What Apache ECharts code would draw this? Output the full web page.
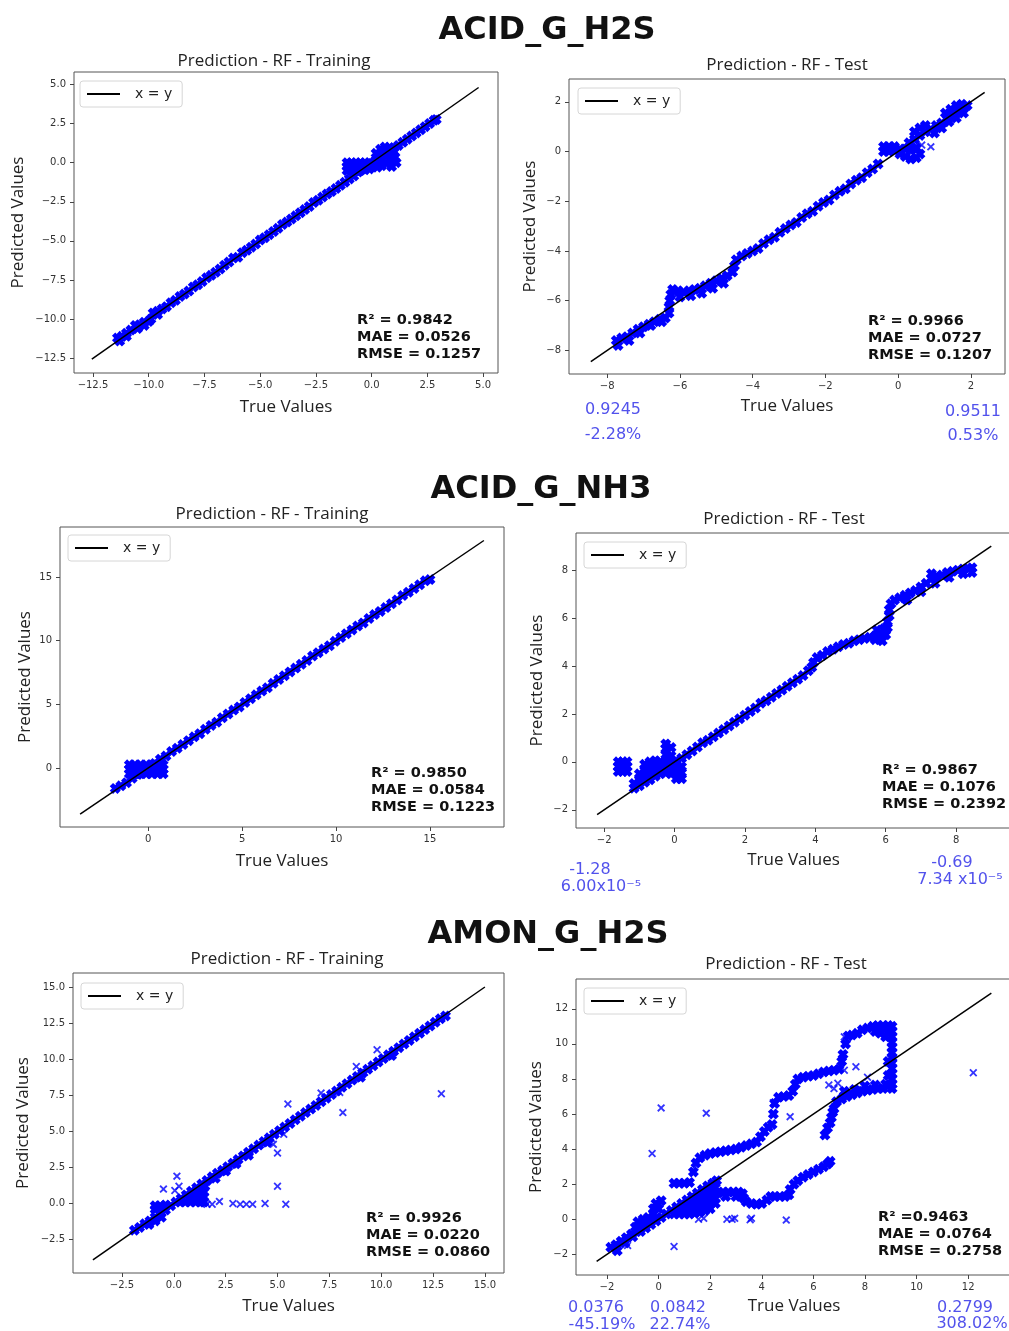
<!DOCTYPE html>
<html><head><meta charset="utf-8">
<script src="https://cdn.jsdelivr.net/npm/echarts@6/dist/echarts.min.js"></script>
<style>html,body{margin:0;padding:0;background:#fff}#c{width:1009px;height:1331px}</style>
</head><body><div id="c"></div>
<script>
// ---------------- DATA ----------------
const groupTitles = ['ACID_G_H2S', 'ACID_G_NH3', 'AMON_G_H2S'];
const subTitles = ['Prediction - RF - Training', 'Prediction - RF - Test'];
const xName = 'True Values';
const yName = 'Predicted Values';
const lineName = 'x = y';

// ACID_G_H2S - training
const ah2sTrainTicks = [-12.5, -10, -7.5, -5, -2.5, 0, 2.5, 5];
const ah2sTrainLine = [-12.55, 4.8];
const ah2sTrainStats = ['R\u00b2 = 0.9842', 'MAE = 0.0526', 'RMSE = 0.1257'];
const ah2sTrainCloud = [
 [-11.4,-11.2],[-11.2,-11.1],[-11.0,-11.1],[-10.8,-10.7],[-10.6,-10.4],[-10.4,-10.35],[-10.2,-10.2],[-10.0,-10.15],
 [-9.8,-9.6],[-9.6,-9.5],[-9.4,-9.35],[-9.2,-9.2],[-9.0,-8.95],[-8.8,-8.8],[-8.6,-8.55],[-8.4,-8.4],[-8.2,-8.2],
 [-8.0,-7.95],[-7.8,-7.8],[-7.6,-7.6],[-7.4,-7.35],[-7.2,-7.2],[-7.0,-7.0],[-6.8,-6.8],[-6.6,-6.55],[-6.4,-6.35],
 [-6.2,-6.1],[-6.0,-6.05],[-5.8,-5.75],[-5.6,-5.6],[-5.4,-5.4],[-5.2,-5.2],[-5.0,-4.95],[-4.8,-4.8],[-4.6,-4.6],
 [-4.4,-4.4],[-4.2,-4.2],[-4.0,-3.95],[-3.8,-3.8],[-3.6,-3.6],[-3.4,-3.4],[-3.2,-3.2],[-3.0,-3.0],[-2.8,-2.8],
 [-2.6,-2.55],[-2.4,-2.4],[-2.2,-2.2],[-2.0,-2.0],[-1.8,-1.85],[-1.6,-1.65],[-1.4,-1.45],[-1.2,-1.25],[-1.0,-1.05],
 [-0.8,-0.85],[-0.6,-0.6],[-0.4,-0.4],[-0.2,-0.25],[0.0,-0.05],[0.2,0.15],[0.4,0.35],[0.6,0.55],[0.8,0.75],
 [1.0,0.95],[1.2,1.1],[1.4,1.3],[1.6,1.5],[1.8,1.7],[2.0,1.9],[2.2,2.1],[2.4,2.3],[2.6,2.5],[2.8,2.7],[2.9,2.75],
 [-11.3,-11.4],[-11.0,-10.9],[-10.5,-10.6],[-10.2,-10.4],[-9.9,-10.0],[-9.6,-9.7],
 [-1.1,0.0],[-0.9,0.0],[-0.7,0.0],[-0.5,0.0],[-0.3,0.0],[-0.1,0.0],
 [-1.1,-0.25],[-0.9,-0.25],[-0.7,-0.25],[-0.5,-0.25],[-0.3,-0.25],[-0.1,-0.25],
 [-1.1,-0.5],[-0.9,-0.5],[-0.7,-0.5],[-0.5,-0.5],[-0.3,-0.45],[-0.1,-0.4],
 [0.2,0.6],[0.4,0.85],[0.6,1.0],[0.8,0.95],[0.25,-0.3],[0.45,-0.2],[0.65,-0.05],[0.85,0.15],[1.05,0.35],
 [1.1,0.0],[0.9,-0.25],[0.55,0.5],[0.35,0.2],[0.75,0.5],[1.0,0.7]
];

// ACID_G_H2S - test
const ah2sTestTicks = [-8, -6, -4, -2, 0, 2];
const ah2sTestLine = [-8.45, 2.38];
const ah2sTestStats = ['R\u00b2 = 0.9966', 'MAE = 0.0727', 'RMSE = 0.1207'];
const ah2sTestNotes = [['0.9245', '-2.28%'], ['0.9511', '0.53%']];
const ah2sTestCloud = [
 [-7.75,-7.6],[-7.6,-7.5],[-7.45,-7.45],[-7.3,-7.3],[-7.15,-7.15],[-7.0,-7.05],[-6.85,-6.95],[-6.7,-6.85],
 [-6.55,-6.75],[-6.4,-6.7],[-7.7,-7.8],[-7.4,-7.6],[-7.1,-7.3],[-6.8,-7.0],[-6.5,-6.85],
 [-6.3,-6.5],[-6.3,-6.25],[-6.28,-6.0],[-6.25,-5.75],[-6.2,-5.55],
 [-6.05,-5.6],[-5.9,-5.65],[-5.75,-5.6],[-5.6,-5.55],[-5.45,-5.5],[-5.3,-5.4],[-5.15,-5.3],[-5.0,-5.2],
 [-4.85,-5.1],[-4.7,-5.0],[-4.55,-4.85],[-6.0,-5.85],[-5.7,-5.8],[-5.4,-5.7],[-5.1,-5.5],[-4.8,-5.3],
 [-4.5,-4.6],[-4.45,-4.35],
 [-4.3,-4.2],[-4.15,-4.1],[-4.0,-4.0],[-3.85,-3.9],[-3.7,-3.7],[-3.55,-3.55],[-3.4,-3.45],[-3.25,-3.25],
 [-3.1,-3.1],[-2.95,-2.95],[-2.8,-2.85],[-2.65,-2.65],[-2.5,-2.5],[-2.35,-2.4],[-2.2,-2.2],[-2.05,-2.05],
 [-1.9,-1.95],[-1.75,-1.75],[-1.6,-1.6],[-1.45,-1.5],[-1.3,-1.3],[-1.15,-1.15],[-1.0,-1.05],[-0.85,-0.85],
 [-0.7,-0.7],[-0.55,-0.5],
 [-0.4,0.2],[-0.25,0.2],[-0.1,0.2],[-0.4,0.0],[-0.25,0.0],[-0.1,0.05],
 [0.05,-0.1],[0.2,-0.2],[0.35,-0.3],[0.5,-0.25],[0.6,-0.1],[0.2,0.1],[0.35,0.05],[0.5,0.15],[0.05,0.1],
 [0.3,0.35],[0.45,0.5],[0.6,0.65],[0.75,0.8],[0.9,0.9],[1.05,1.05],[1.2,1.15],[1.35,1.3],[1.5,1.45],
 [1.65,1.6],[1.8,1.75],[1.9,1.85],
 [0.45,0.8],[0.6,0.95],[0.75,1.05],[1.3,1.55],[1.45,1.7],[1.6,1.85],[1.75,1.9],
 [1.0,0.75],[1.2,0.95],[1.4,1.2],[1.6,1.35],[1.8,1.55]
];
const ah2sTestOutliers = [[0.65,0.26],[0.9,0.19]];

// ACID_G_NH3 - training
const anh3TrainTicks = [0, 5, 10, 15];
const anh3TrainLine = [-3.62, 17.87];
const anh3TrainStats = ['R\u00b2 = 0.9850', 'MAE = 0.0584', 'RMSE = 0.1223'];
const anh3TrainCloud = [
 [-1.75,-1.6],[-1.45,-1.4],[-1.15,-1.15],[-0.85,-0.8],[-0.55,-0.5],[-0.25,-0.25],[0.05,0.05],[0.35,0.35],
 [0.65,0.7],[0.95,0.95],[1.25,1.3],[1.55,1.55],[1.85,1.85],[2.15,2.15],[2.45,2.45],[2.75,2.7],[3.05,3.05],
 [3.35,3.35],[3.65,3.6],[3.95,3.95],[4.25,4.25],[4.55,4.55],[4.85,4.8],[5.15,5.15],[5.45,5.45],[5.75,5.75],
 [6.05,6.05],[6.35,6.3],[6.65,6.65],[6.95,6.95],[7.25,7.25],[7.55,7.55],[7.85,7.85],[8.15,8.15],[8.45,8.45],
 [8.75,8.8],[9.05,9.05],[9.35,9.35],[9.65,9.6],[9.95,9.95],[10.25,10.25],[10.55,10.55],[10.85,10.85],
 [11.15,11.15],[11.45,11.4],[11.75,11.75],[12.05,12.05],[12.35,12.3],[12.65,12.6],[12.95,12.9],[13.25,13.2],
 [13.55,13.55],[13.85,13.8],[14.15,14.1],[14.45,14.4],[14.75,14.7],[15.0,14.8],
 [-1.0,0.25],[-0.7,0.25],[-0.4,0.25],[-0.1,0.25],[0.2,0.25],[0.5,0.25],[0.8,0.25],
 [-1.0,-0.1],[-0.7,-0.1],[-0.4,-0.1],[-0.1,-0.1],[0.2,-0.1],[0.5,-0.1],[0.8,-0.1],
 [-1.0,-0.45],[-0.7,-0.45],[-0.4,-0.45],[-0.1,-0.45],[0.2,-0.45],[0.5,-0.45],[0.8,-0.45]
];

// ACID_G_NH3 - test
const anh3TestTicks = [-2, 0, 2, 4, 6, 8];
const anh3TestLine = [-2.2, 9.0];
const anh3TestStats = ['R\u00b2 = 0.9867', 'MAE = 0.1076', 'RMSE = 0.2392'];
const anh3TestNotes = [['-1.28', '6.00x10\u207b\u2075'], ['-0.69', '7.34 x10\u207b\u2075']];
const anh3TestCloud = [
 [-1.6,0.0],[-1.47,0.0],[-1.35,0.0],[-1.6,-0.2],[-1.47,-0.2],[-1.35,-0.2],[-1.6,-0.4],[-1.47,-0.4],[-1.35,-0.4],
 [-1.15,-1.1],[-1.15,-0.9],[-1.0,-1.0],[-1.0,-0.75],[-1.0,-0.5],
 [-0.85,-0.85],[-0.85,-0.6],[-0.85,-0.35],[-0.85,-0.1],
 [-0.7,-0.75],[-0.7,-0.5],[-0.7,-0.25],[-0.7,0.0],
 [-0.55,-0.6],[-0.55,-0.35],[-0.55,-0.1],[-0.55,0.05],
 [-0.4,-0.5],[-0.4,-0.25],[-0.4,0.0],
 [-0.25,-0.45],[-0.25,-0.2],[-0.25,0.05],[-0.25,0.3],[-0.25,0.55],[-0.25,0.75],
 [-0.1,-0.5],[-0.1,-0.25],[-0.1,0.0],[-0.1,0.25],[-0.1,0.6],
 [0.05,-0.7],[0.05,-0.45],[0.05,-0.2],[0.05,0.05],
 [0.2,-0.7],[0.2,-0.45],[0.2,-0.2],[0.2,0.15],
 [0.35,0.3],[0.5,0.45],[0.65,0.62],[0.8,0.8],[0.95,0.9],[1.1,1.05],[1.25,1.2],[1.4,1.35],[1.55,1.5],
 [1.7,1.65],[1.85,1.8],[2.0,1.95],[2.15,2.1],[2.3,2.25],[2.45,2.45],[2.6,2.55],[2.75,2.7],[2.9,2.85],
 [3.05,3.0],[3.2,3.15],[3.35,3.3],[3.5,3.45],[3.65,3.6],[3.8,3.8],
 [3.9,3.95],[3.95,4.15],[4.05,4.35],[4.2,4.45],[4.35,4.6],[4.5,4.7],[4.65,4.8],[4.8,4.9],[4.95,4.95],
 [5.1,5.05],[5.25,5.1],[5.4,5.15],[5.55,5.2],[5.7,5.25],[5.85,5.3],[6.0,5.3],
 [5.75,5.5],[5.95,5.55],[5.9,5.05],[5.7,5.1],
 [6.05,5.6],[6.05,5.85],[6.1,6.1],[6.1,6.35],[6.15,6.6],
 [6.25,6.75],[6.4,6.85],[6.55,6.95],[6.7,7.05],[6.85,7.15],[7.0,7.3],[7.15,7.45],[7.3,7.65],[7.45,7.75],
 [7.6,7.8],[7.75,7.9],[7.9,7.95],[8.05,8.0],[8.2,8.05],[8.35,8.05],[8.45,8.1],
 [6.6,6.75],[7.0,7.1],[7.4,7.45],[7.8,7.7],[8.2,7.85],[8.45,7.9],[7.3,7.85]
];

// AMON_G_H2S - training
const amonTrainTicks = [-2.5, 0, 2.5, 5, 7.5, 10, 12.5, 15];
const amonTrainLine = [-3.9, 15.0];
const amonTrainStats = ['R\u00b2 = 0.9926', 'MAE = 0.0220', 'RMSE = 0.0860'];
const amonTrainCloud = [
 [-1.9,-1.85],[-1.65,-1.65],[-1.4,-1.4],[-1.15,-1.2],[-0.9,-0.95],[-0.65,-0.7],[-0.4,-0.45],[-0.15,-0.15],
 [0.1,0.1],[0.35,0.35],[0.6,0.6],[0.85,0.85],[1.1,1.1],[1.35,1.35],[1.6,1.6],[1.85,1.85],[2.1,2.1],
 [2.35,2.3],[2.6,2.55],[2.85,2.8],[3.1,3.05],[3.35,3.3],[3.6,3.55],[3.85,3.8],[4.1,4.05],[4.35,4.3],
 [4.6,4.55],[4.85,4.8],[5.1,5.05],[5.35,5.3],[5.6,5.55],[5.85,5.8],[6.1,6.05],[6.35,6.3],[6.6,6.55],
 [6.85,6.8],[7.1,7.05],[7.35,7.3],[7.6,7.55],[7.85,7.8],[8.1,8.05],[8.35,8.3],[8.6,8.55],[8.85,8.8],
 [9.1,9.05],[9.35,9.3],[9.6,9.55],[9.85,9.8],[10.1,10.05],[10.35,10.3],[10.6,10.55],[10.85,10.8],
 [11.1,11.05],[11.35,11.3],[11.6,11.55],[11.85,11.8],[12.1,12.05],[12.35,12.3],[12.6,12.55],[12.85,12.8],
 [13.1,13.0],
 [1.5,1.2],[2.0,1.75],[2.5,2.25],[3.0,2.75],[3.6,3.35],[4.5,4.25],[9.0,8.75],[10.5,10.25],
 [0.3,0.1],[0.55,0.1],[0.8,0.1],[1.05,0.1],[1.3,0.1],[1.45,0.1],
 [0.8,0.4],[1.05,0.4],[1.3,0.4],[1.45,0.45],[1.05,0.7],[1.3,0.7],[1.45,0.8],[1.3,1.0],
 [-0.9,-0.15],[-0.65,-0.15],[-0.4,-0.1],[-0.9,-0.4],[-0.65,-0.4],
 [-1.2,-1.45],[-0.9,-1.2],[-0.6,-0.95]
];
const amonTrainOutliers = [
 [0.15,1.9],[-0.5,1.0],[0.25,1.2],[0.05,0.9],[2.2,0.15],[1.6,-0.05],[1.85,-0.05],[2.85,0.0],[3.2,-0.05],
 [3.5,-0.05],[3.8,-0.05],[4.4,0.0],[5.4,-0.05],[5.0,1.2],[5.0,3.5],[4.8,4.1],[5.5,6.9],[8.15,6.3],
 [12.9,7.6],[9.8,10.65],[8.8,9.5],[9.2,9.1],[7.1,7.65],[8.0,7.7],[5.3,4.8],[4.7,4.5]
];

// AMON_G_H2S - test
const amonTestTicks = [-2, 0, 2, 4, 6, 8, 10, 12];
const amonTestLine = [-2.4, 12.9];
const amonTestStats = ['R\u00b2 =0.9463', 'MAE = 0.0764', 'RMSE = 0.2758'];
const amonTestNotes = [['0.0376', '-45.19%'], ['0.0842', '22.74%'], ['0.2799', '308.02%']];
const amonTestCloud = [
 [-1.85,-1.6],[-1.65,-1.45],[-1.45,-1.25],[-1.25,-1.05],[-1.05,-0.85],[-0.85,-0.7],
 [-1.6,-1.8],[-1.3,-1.35],[-1.0,-1.0],[-0.7,-0.7],
 [-0.5,-0.5],[-0.3,-0.3],[-0.1,-0.1],[0.1,0.1],[0.3,0.3],[0.5,0.5],[0.7,0.7],[0.9,0.9],[1.1,1.1],
 [1.3,1.3],[1.5,1.5],[1.7,1.7],[1.9,1.9],[2.1,2.05],[2.25,2.2],
 [-0.9,-0.45],[-0.7,-0.45],[-0.5,-0.3],[-0.8,-0.15],[-0.6,0.0],[-0.4,0.1],[-0.2,0.3],
 [-0.2,0.6],[0.0,0.6],[-0.1,0.9],[0.1,1.05],
 [0.6,0.3],[0.8,0.3],[0.8,0.55],[1.0,0.3],[1.0,0.6],[1.2,0.3],[1.2,0.6],[1.2,0.9],
 [1.4,0.35],[1.4,0.65],[1.4,0.95],[1.4,1.2],[1.6,0.4],[1.6,0.7],[1.6,1.0],[1.6,1.3],
 [1.8,0.5],[1.8,0.8],[1.8,1.1],[1.8,1.4],[2.0,0.6],[2.0,0.9],[2.0,1.2],[2.0,1.5],[2.0,1.8],
 [2.2,0.9],[2.2,1.2],[2.2,1.5],[2.2,1.8],
 [0.6,2.05],[0.8,2.05],[1.0,2.05],[1.2,2.1],[1.35,2.7],[1.45,3.2],[1.6,3.5],[1.8,3.65],[2.0,3.75],
 [2.2,3.8],[2.4,3.85],[2.6,3.9],[2.8,3.95],[3.0,4.0],[3.2,4.1],[3.4,4.2],[3.6,4.3],[3.8,4.4],[3.95,4.7],
 [4.1,5.0],[4.25,5.25],[4.4,5.4],[4.45,6.0],[4.5,6.6],[4.65,6.95],[4.85,7.0],[5.05,7.05],[5.2,7.3],
 [5.3,7.7],[5.4,8.0],[5.6,8.1],[5.8,8.15],[6.0,8.2],[6.2,8.3],[6.4,8.4],[6.6,8.45],[6.8,8.5],[7.0,8.55],
 [7.1,9.0],[7.15,9.4],[7.25,10.0],[7.35,10.45],[7.5,10.5],[7.7,10.6],[7.9,10.8],[8.1,10.9],[8.3,11.0],
 [8.5,11.05],[8.7,11.05],[8.9,11.05],[9.05,11.0],[8.6,10.6],[8.8,10.4],[8.9,10.7],[8.4,10.7],
 [9.05,10.7],[9.05,10.4],[9.05,10.1],[9.05,9.8],[9.05,9.5],[9.05,9.2],[9.05,8.9],[9.05,8.6],[9.05,8.3],
 [9.05,8.0],[9.05,7.7],[9.05,7.45],[8.9,9.0],[8.9,8.2],[8.9,7.6],
 [6.9,6.7],[7.1,6.85],[7.3,7.0],[7.5,7.1],[7.7,7.2],[7.9,7.3],[8.1,7.35],[8.3,7.4],[8.5,7.45],[8.7,7.45],
 [7.2,7.3],[7.6,7.4],[8.0,7.6],[8.4,7.65],[8.8,7.7],
 [6.45,4.8],[6.55,5.2],[6.65,5.5],[6.7,5.8],[6.75,6.1],[6.8,6.3],
 [2.3,1.5],[2.5,1.55],[2.7,1.55],[2.9,1.55],[3.1,1.55],[3.25,1.45],[2.6,1.3],[3.0,1.3],
 [3.3,1.2],[3.4,1.0],[3.6,0.9],[3.8,0.85],[4.0,0.9],[4.2,1.1],[4.35,1.3],[4.5,1.3],[4.7,1.3],[4.9,1.3],
 [5.05,1.4],[5.1,1.7],[5.25,2.0],[5.4,2.2],[5.6,2.4],[5.8,2.55],[6.0,2.7],[6.2,2.85],[6.4,3.0],
 [6.55,3.15],[6.65,3.3]
];
const amonTestOutliers = [
 [0.1,6.35],[1.85,6.05],[-0.25,3.75],[0.6,-1.55],[5.1,5.85],[12.2,8.35],[7.65,8.7],[8.1,8.1],[4.95,-0.05],
 [3.55,-0.03],[3.6,0.05],[2.65,0.0],[2.85,0.0],[2.95,0.05],[1.55,0.0],[1.75,0.05],[7.1,9.35],[6.6,7.65],
 [6.8,7.45],[6.95,7.75],[7.2,8.5],[-1.2,-1.5],[4.45,6.65],[7.2,10.4]
];

// ---------------- LAYOUT / STYLE ----------------
// dense-cloud marker: a thick "x" with a filled core so neighbouring markers merge into a solid band
const X_DENSE = 'path://M3,0 L5,2 L7,0 L10,3 L8,5 L10,7 L7,10 L5,8 L3,10 L0,7 L2,5 L0,3 Z M2,2 L8,2 L8,8 L2,8 Z';
const X_THIN = 'path://M1.6,0 L5,3.4 L8.4,0 L10,1.6 L6.6,5 L10,8.4 L8.4,10 L5,6.6 L1.6,10 L0,8.4 L3.4,5 L0,1.6 Z';
const BLUE = '#0000ff';
const NOTE = '#5252ec';

const panels = [
 {cloud: ah2sTrainCloud, out: null, line: ah2sTrainLine, ticks: ah2sTrainTicks, stats: ah2sTrainStats, sub: subTitles[0],
  box: [74, 72, 424, 301], xr: [-13.35, 5.67], yr: [-13.44, 5.79], dec: 1, xGap: 26, yGap: 47,
  leg: [80, 81], st: [357, 312], subPos: [274, 61]},
 {cloud: ah2sTestCloud, out: ah2sTestOutliers, line: ah2sTestLine, ticks: ah2sTestTicks, stats: ah2sTestStats, sub: subTitles[1],
  box: [569, 79, 436, 295], xr: [-9.05, 2.94], yr: [-8.95, 2.92], dec: 0, xGap: 24, yGap: 30,
  leg: [578, 88], st: [868, 313], subPos: [787, 65]},
 {cloud: anh3TrainCloud, out: null, line: anh3TrainLine, ticks: anh3TrainTicks, stats: anh3TrainStats, sub: subTitles[0],
  box: [60, 527, 444, 300], xr: [-4.69, 18.94], yr: [-4.63, 18.93], dec: 0, xGap: 26, yGap: 26,
  leg: [68, 535], st: [371, 765], subPos: [272, 514]},
 {cloud: anh3TestCloud, out: null, line: anh3TestLine, ticks: anh3TestTicks, stats: anh3TestStats, sub: subTitles[1],
  box: [576, 533, 435, 295], xr: [-2.8, 9.56], yr: [-2.76, 9.55], dec: 0, xGap: 24, yGap: 30,
  leg: [584, 542], st: [882, 762], subPos: [784, 519]},
 {cloud: amonTrainCloud, out: amonTrainOutliers, line: amonTrainLine, ticks: amonTrainTicks, stats: amonTrainStats, sub: subTitles[0],
  box: [73, 973, 431, 300], xr: [-4.86, 15.92], yr: [-4.81, 15.97], dec: 1, xGap: 25, yGap: 41,
  leg: [81, 983], st: [366, 1210], subPos: [287, 959]},
 {cloud: amonTestCloud, out: amonTestOutliers, line: amonTestLine, ticks: amonTestTicks, stats: amonTestStats, sub: subTitles[1],
  box: [576, 979, 436, 296], xr: [-3.2, 13.7], yr: [-3.18, 13.7], dec: 0, xGap: 23, yGap: 31,
  leg: [584, 988], st: [878, 1209], subPos: [786, 964]}
];

const groupPos = [[547, 31], [541, 490], [548, 935]];
const notes = [
 {text: ah2sTestNotes[0], pos: [[613, 410], [613, 435]]},
 {text: ah2sTestNotes[1], pos: [[973, 412], [973, 436]]},
 {text: anh3TestNotes[0], pos: [[590, 870], [601, 887]]},
 {text: anh3TestNotes[1], pos: [[952, 863], [960, 880]]},
 {text: amonTestNotes[0], pos: [[596, 1308], [602, 1325]]},
 {text: amonTestNotes[1], pos: [[678, 1308], [680, 1325]]},
 {text: amonTestNotes[2], pos: [[965, 1308], [972, 1324]]}
];

function fmt(dec) {
  return function (v) {
    const s = dec ? Number(v).toFixed(1) : String(Math.round(v));
    return s.replace('-', '\u2212');
  };
}

const grid = [], xAxis = [], yAxis = [], series = [], legend = [], graphic = [];
panels.forEach(function (p, i) {
  grid.push({left: p.box[0], top: p.box[1], width: p.box[2], height: p.box[3], show: true,
    borderColor: '#555', borderWidth: 1, backgroundColor: 'transparent', containLabel: false, outerBoundsMode: 'none'});
  const common = {
    type: 'value', gridIndex: i, splitLine: {show: false}, axisLine: {show: false, onZero: false},
    axisTick: {show: true, length: 4, lineStyle: {color: '#444'}, customValues: p.ticks},
    axisLabel: {customValues: p.ticks, formatter: fmt(p.dec), fontSize: 10, fontFamily: 'DejaVu Sans', color: '#333', margin: 7},
    nameLocation: 'middle', nameTextStyle: {fontFamily: 'Open Sans', fontSize: 17, color: '#222'}
  };
  xAxis.push(Object.assign({}, common, {position: 'bottom', min: p.xr[0], max: p.xr[1], name: xName, nameGap: p.xGap}));
  yAxis.push(Object.assign({}, common, {position: 'left', min: p.yr[0], max: p.yr[1], name: yName, nameGap: p.yGap, nameRotate: 90,
    axisLabel: Object.assign({}, common.axisLabel, {margin: 8})}));
  series.push({type: 'scatter', name: 'cloud' + i, xAxisIndex: i, yAxisIndex: i, data: p.cloud,
    symbol: X_DENSE, symbolSize: 11, itemStyle: {color: BLUE, opacity: 1}, z: 2, silent: true});
  if (p.out) series.push({type: 'scatter', name: 'out' + i, xAxisIndex: i, yAxisIndex: i, data: p.out,
    symbol: X_THIN, symbolSize: 8, itemStyle: {color: BLUE}, z: 2, silent: true});
  series.push({type: 'line', name: lineName, xAxisIndex: i, yAxisIndex: i,
    data: [[p.line[0], p.line[0]], [p.line[1], p.line[1]]], symbol: 'none', showSymbol: false,
    lineStyle: {color: '#000', width: 1.5}, itemStyle: {color: '#000'}, z: 3, silent: true});
  legend.push({data: [lineName], left: p.leg[0], top: p.leg[1], icon: 'rect', itemWidth: 33, itemHeight: 2,
    padding: [6, 10, 6, 7], backgroundColor: '#fff', borderColor: '#d6d6d6', borderWidth: 1, borderRadius: 3,
    selectedMode: false, z: 10,
    textStyle: {fontFamily: 'DejaVu Sans', fontSize: 14, color: '#222', padding: [0, 0, 0, 10]}});
  graphic.push({type: 'text', left: p.st[0], top: p.st[1], z: 20,
    style: {text: p.stats.join('\n'), font: 'bold 14.5px "DejaVu Sans"', lineHeight: 17, fill: '#111'}});
  graphic.push({type: 'text', x: p.subPos[0], y: p.subPos[1], z: 20,
    style: {text: p.sub, font: '17px "Open Sans"', fill: '#222', align: 'center', verticalAlign: 'middle'}});
});
groupTitles.forEach(function (t, i) {
  graphic.push({type: 'text', x: groupPos[i][0], y: groupPos[i][1], z: 20,
    style: {text: t, font: 'bold 32px "DejaVu Sans"', fill: '#111', align: 'center', verticalAlign: 'middle'}});
});
notes.forEach(function (n) {
  n.text.forEach(function (t, k) {
    graphic.push({type: 'text', x: n.pos[k][0], y: n.pos[k][1], z: 20,
      style: {text: t, font: '16px "DejaVu Sans"', fill: NOTE, align: 'center', verticalAlign: 'middle'}});
  });
});

const chart = echarts.init(document.getElementById('c'), null, {renderer: 'canvas'});
chart.setOption({
  animation: false, backgroundColor: '#fff',
  grid: grid, xAxis: xAxis, yAxis: yAxis, series: series, legend: legend, graphic: graphic
});
</script></body></html>
